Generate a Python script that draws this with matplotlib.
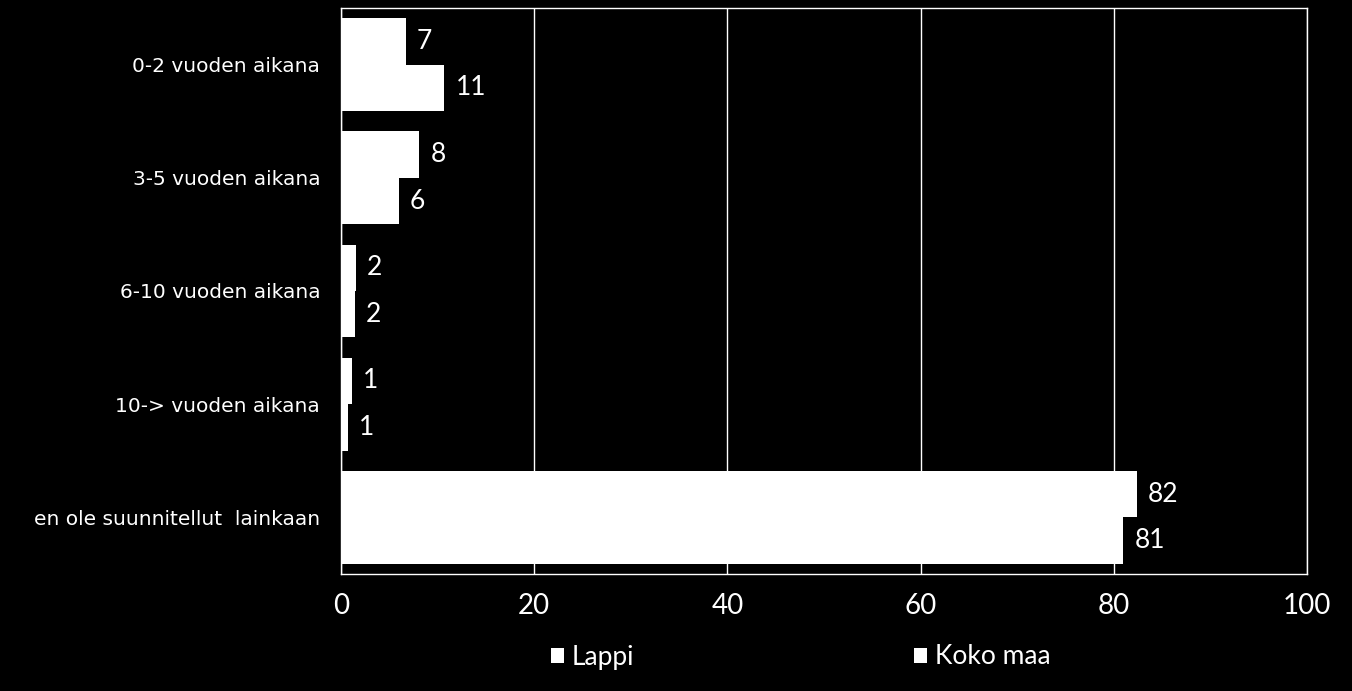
import numpy as np
import matplotlib.pyplot as plt
from matplotlib.patches import Patch

categories = ["0-2 vuoden aikana", "3-5 vuoden aikana", "6-10 vuoden aikana",
              "10-> vuoden aikana", "en ole suunnitellut  lainkaan"]
lappi = [6.7, 8.1, 1.55, 1.15, 82.4]
koko_maa = [10.7, 6.0, 1.45, 0.7, 81.0]
lappi_labels = ["7", "8", "2", "1", "82"]
koko_labels = ["11", "6", "2", "1", "81"]
xticks = [0, 20, 40, 60, 80, 100]

num_font = ['Lato', 'DejaVu Sans']

fig = plt.figure(figsize=(13.52, 6.91), dpi=100, facecolor='black')
ax = fig.add_axes([341 / 1352, 1 - 574 / 691, (1307 - 341) / 1352, (574 - 8) / 691])
ax.set_facecolor('black')

y = np.arange(len(categories))
h = 0.41
b1 = ax.barh(y - h / 2, lappi, height=h, color='white', zorder=3, label='Lappi')
b2 = ax.barh(y + h / 2, koko_maa, height=h, color='white', zorder=3, label='Koko maa')
ax.bar_label(b1, labels=lappi_labels, padding=8, color='white', fontsize=19, family=num_font)
ax.bar_label(b2, labels=koko_labels, padding=8, color='white', fontsize=19, family=num_font)

ax.set_xlim(0, 100)
ax.set_ylim(len(categories) - 0.5, -0.5)
ax.set_yticks(y)
ax.set_yticklabels(categories, color='white', fontsize=14.5, family='DejaVu Sans')
ax.set_xticks(xticks)
ax.set_xticklabels([str(t) for t in xticks], color='white', fontsize=20, family=num_font)
ax.tick_params(axis='y', length=0, pad=15)
ax.tick_params(axis='x', length=0, pad=14)
ax.grid(axis='x', color='white', linewidth=1, zorder=1)
for s in ax.spines.values():
    s.set_color('white')
    s.set_linewidth(1)

handles = [Patch(facecolor='white', label='Lappi'), Patch(facecolor='white', label='Koko maa')]
leg = fig.legend(handles=handles, loc='center', bbox_to_anchor=(801 / 1352, 1 - 657 / 691),
                 ncol=2, frameon=False, prop={'family': num_font, 'size': 19},
                 handlelength=0.5, handleheight=0.5, handletextpad=0.3, columnspacing=10.6)
for t in leg.get_texts():
    t.set_color('white')

fig.savefig('out.png', dpi=100, facecolor='black')
